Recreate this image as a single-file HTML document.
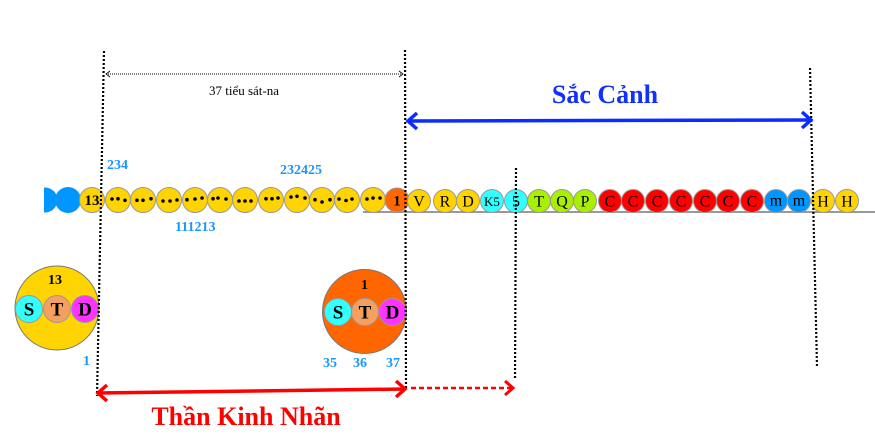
<!DOCTYPE html>
<html><head><meta charset="utf-8"><style>
html,body{margin:0;padding:0;background:#fff;}
svg{display:block;}
text{font-family:"Liberation Serif",serif;}
</style></head><body>
<svg width="875" height="439" viewBox="0 0 875 439" xmlns="http://www.w3.org/2000/svg">
<rect width="875" height="439" fill="#fff"/>
<defs><clipPath id="cl"><rect x="44" y="180" width="30" height="40"/></clipPath></defs>

<!-- baseline -->
<line x1="363" y1="212" x2="875" y2="212" stroke="#999" stroke-width="2"/>

<!-- left blue circles -->
<circle cx="45" cy="200" r="12.5" fill="#0096ff" clip-path="url(#cl)"/>
<circle cx="68" cy="200" r="13" fill="#0096ff"/>

<!-- yellow 13 bead -->
<circle cx="92" cy="200" r="12.5" fill="#ffd400" stroke="#999" stroke-width="1"/>
<text x="92" y="205" font-size="15" font-weight="bold" text-anchor="middle">13</text>

<!-- dot beads -->
<g fill="#ffd400" stroke="#999" stroke-width="1">
<circle cx="118" cy="200" r="12.5"/><circle cx="143" cy="200" r="12.5"/><circle cx="169" cy="200" r="12.5"/>
<circle cx="195" cy="200" r="12.5"/><circle cx="220" cy="200" r="12.5"/><circle cx="245" cy="200" r="12.5"/>
<circle cx="271" cy="200" r="12.5"/><circle cx="297" cy="200" r="12.5"/><circle cx="322" cy="200" r="12.5"/>
<circle cx="347" cy="200" r="12.5"/><circle cx="373" cy="200" r="12.5"/>
</g>
<g fill="#000">
<circle cx="112" cy="199" r="1.8"/><circle cx="118" cy="198.7" r="1.8"/><circle cx="125" cy="200.3" r="1.8"/>
<circle cx="137" cy="200.3" r="1.8"/><circle cx="143" cy="200.3" r="1.8"/><circle cx="151" cy="198.7" r="1.8"/>
<circle cx="163" cy="201" r="1.8"/><circle cx="170" cy="201" r="1.8"/><circle cx="177" cy="200" r="1.8"/>
<circle cx="187" cy="199.7" r="1.8"/><circle cx="195" cy="199" r="1.8"/><circle cx="202" cy="198" r="1.8"/>
<circle cx="213" cy="198.7" r="1.8"/><circle cx="218" cy="198" r="1.8"/><circle cx="226" cy="199" r="1.8"/>
<circle cx="239" cy="201" r="1.8"/><circle cx="245" cy="201" r="1.8"/><circle cx="251" cy="201" r="1.8"/>
<circle cx="266" cy="198.7" r="1.8"/><circle cx="272" cy="198.7" r="1.8"/><circle cx="278" cy="198" r="1.8"/>
<circle cx="291" cy="197" r="1.8"/><circle cx="297" cy="196.3" r="1.8"/><circle cx="305" cy="198" r="1.8"/>
<circle cx="315" cy="199.7" r="1.8"/><circle cx="322" cy="202" r="1.8"/><circle cx="330" cy="199.7" r="1.8"/>
<circle cx="339" cy="199" r="1.8"/><circle cx="346" cy="200.5" r="1.8"/><circle cx="352" cy="199" r="1.8"/>
<circle cx="367" cy="199" r="1.8"/><circle cx="373" cy="198" r="1.8"/><circle cx="380" cy="198" r="1.8"/>
</g>

<!-- orange 1 bead -->
<circle cx="397" cy="200" r="12" fill="#ff6600" stroke="#999" stroke-width="1"/>
<text x="397" y="205.5" font-size="15" font-weight="bold" text-anchor="middle">1</text>

<!-- letter beads -->
<g stroke="#999" stroke-width="1">
<circle cx="419" cy="201" r="11.5" fill="#ffd400"/>
<circle cx="445" cy="201" r="11.5" fill="#ffd400"/>
<circle cx="468" cy="201" r="11.5" fill="#ffd400"/>
<circle cx="492" cy="201" r="11.5" fill="#33ffff"/>
<circle cx="516" cy="201" r="11.5" fill="#33ffff"/>
<circle cx="539" cy="201" r="11.5" fill="#a8f000"/>
<circle cx="562" cy="201" r="11.5" fill="#a8f000"/>
<circle cx="585" cy="201" r="11.5" fill="#a8f000"/>
<circle cx="610" cy="201" r="11.5" fill="#ff0000"/>
<circle cx="633" cy="201" r="11.5" fill="#ff0000"/>
<circle cx="657" cy="201" r="11.5" fill="#ff0000"/>
<circle cx="681" cy="201" r="11.5" fill="#ff0000"/>
<circle cx="705" cy="201" r="11.5" fill="#ff0000"/>
<circle cx="728" cy="201" r="11.5" fill="#ff0000"/>
<circle cx="752" cy="201" r="11.5" fill="#ff0000"/>
<circle cx="776" cy="201" r="11.5" fill="#0096ff"/>
<circle cx="799" cy="201" r="11.5" fill="#0096ff"/>
<circle cx="823" cy="201" r="11.5" fill="#ffd400"/>
<circle cx="847" cy="201" r="11.5" fill="#ffd400"/>
</g>
<g font-size="16" text-anchor="middle" fill="#000">
<text x="419" y="206.5">V</text><text x="445" y="206.5">R</text><text x="468" y="206.5">D</text>
<text x="492" y="206" font-size="13">K5</text><text x="516" y="206.5">5</text>
<text x="539" y="206.5">T</text><text x="562" y="206.5">Q</text><text x="585" y="206.5">P</text>
<text x="610" y="206.5">C</text><text x="633" y="206.5">C</text><text x="657" y="206.5">C</text>
<text x="681" y="206.5">C</text><text x="705" y="206.5">C</text><text x="728" y="206.5">C</text>
<text x="752" y="206.5">C</text>
<text x="776" y="205.5">m</text><text x="799" y="205.5">m</text>
<text x="823" y="206.5">H</text><text x="847" y="206.5">H</text>
</g>

<!-- blue numbers -->
<g fill="#1a96ff" font-size="14" font-weight="bold">
<text x="107" y="169">234</text>
<text x="280" y="174">232425</text>
<text x="175" y="231">111213</text>
<text x="83" y="365">1</text>
<text x="323" y="367">35</text>
<text x="353" y="367">36</text>
<text x="386" y="367">37</text>
</g>

<!-- big left circle -->
<circle cx="57" cy="308" r="42" fill="#ffd400" stroke="#777" stroke-width="1"/>
<text x="55" y="284" font-size="14" font-weight="bold" text-anchor="middle">13</text>
<circle cx="29" cy="309" r="13.5" fill="#33ffff" stroke="#999" stroke-width="1"/>
<circle cx="57" cy="309" r="13.5" fill="#f5a060" stroke="#999" stroke-width="1"/>
<circle cx="85" cy="309" r="13.5" fill="#ff33ff" stroke="#999" stroke-width="1"/>
<g font-size="19" font-weight="bold" text-anchor="middle">
<text x="29" y="315.5">S</text><text x="57" y="315.5">T</text><text x="85" y="315.5">D</text>
</g>

<!-- big orange circle -->
<circle cx="364.5" cy="311.5" r="42" fill="#ff6600" stroke="#777" stroke-width="1"/>
<text x="364.5" y="289" font-size="14" font-weight="bold" text-anchor="middle">1</text>
<circle cx="338" cy="312" r="13.5" fill="#33ffff" stroke="#999" stroke-width="1"/>
<circle cx="365" cy="312" r="13.5" fill="#f5a060" stroke="#999" stroke-width="1"/>
<circle cx="392.5" cy="312" r="13.5" fill="#ff33ff" stroke="#999" stroke-width="1"/>
<g font-size="19" font-weight="bold" text-anchor="middle">
<text x="338" y="318.5">S</text><text x="365" y="318.5">T</text><text x="392.5" y="318.5">D</text>
</g>

<!-- vertical dotted lines -->
<g stroke="#000" stroke-width="2.2" stroke-dasharray="2 2" fill="none">
<line x1="104" y1="51" x2="97" y2="396"/>
<line x1="405" y1="50" x2="406" y2="389"/>
<line x1="516" y1="168" x2="515" y2="379"/>
<line x1="810" y1="68" x2="817" y2="366"/>
</g>

<!-- top dotted measure -->
<line x1="106" y1="74" x2="403" y2="74" stroke="#000" stroke-width="1" stroke-dasharray="1 1"/>
<polyline points="110,71 106,74 110,77" fill="none" stroke="#000" stroke-width="0.8"/>
<polyline points="399,71 403,74 399,77" fill="none" stroke="#000" stroke-width="0.8"/>
<text x="244" y="95" font-size="13" text-anchor="middle">37 tiểu sát-na</text>

<!-- Sắc Cảnh -->
<text x="605" y="103" font-size="26" font-weight="bold" fill="#1030ff" text-anchor="middle">Sắc Cảnh</text>
<line x1="408" y1="121" x2="811" y2="120" stroke="#0a2cff" stroke-width="3.5"/>
<polyline points="417,113 408,121 417,129" fill="none" stroke="#0a2cff" stroke-width="3.5"/>
<polyline points="802,112 811,120 802,128" fill="none" stroke="#0a2cff" stroke-width="3.5"/>

<!-- Thần Kinh Nhãn -->
<line x1="98" y1="393" x2="405" y2="389" stroke="#ff0000" stroke-width="3.5"/>
<polyline points="107,385 98,393 107,401" fill="none" stroke="#ff0000" stroke-width="3.5"/>
<polyline points="396,381 405,389 396,397" fill="none" stroke="#ff0000" stroke-width="3.5"/>
<line x1="411" y1="388" x2="513" y2="388" stroke="#ff0000" stroke-width="2.5" stroke-dasharray="5 3"/>
<polyline points="505,381 513,388 505,395" fill="none" stroke="#ff0000" stroke-width="3"/>
<text x="246" y="425" font-size="26" font-weight="bold" fill="#ff0000" text-anchor="middle">Thần Kinh Nhãn</text>
</svg>
</body></html>
